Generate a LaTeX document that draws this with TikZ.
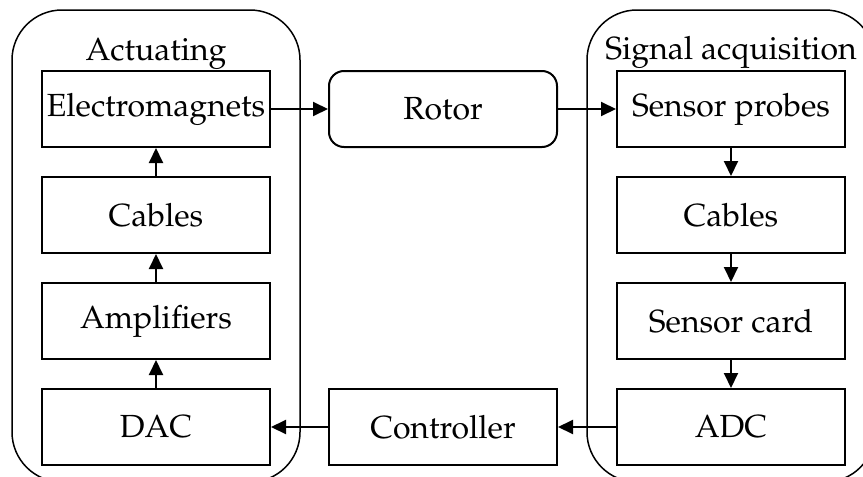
\documentclass[tikz,border=0pt]{standalone}
\usepackage[T1]{fontenc}
\usepackage{mathpazo}
\usepackage{tikz}
\usetikzlibrary{arrows.meta}

\begin{document}
\begin{tikzpicture}[x=0.5pt,y=-0.5pt,
	block/.style={draw,line width=1pt,minimum width=114pt,minimum height=38pt,inner sep=0pt,font=\fontsize{16}{19}\selectfont},
	rblock/.style={block,rounded corners=7.5pt},
	group/.style={draw,line width=0.75pt,rounded corners=25pt},
	title/.style={anchor=base,inner sep=0pt,font=\fontsize{16}{19}\selectfont},
	link/.style={line width=1pt,-{Triangle[length=7.5pt,width=7pt]}}]
	\clip (0,0) rectangle (863,477);
	%% groups
	\draw[group] (12,10) rectangle (300,482);
	\draw[group] (587,10) rectangle (875,482);
	\node[title] (acttitle) at (156,60) {Actuating};
	\node[title] (sigtitle) at (731,59) {Signal acquisition};
	%% actuating side
	\node[block] (magnets) at (156,109) {Electromagnets};
	\node[block] (actcables) at (156,215) {Cables};
	\node[block] (amps) at (156,321) {Amplifiers};
	\node[block] (dac) at (156,427) {DAC};
	%% middle
	\node[rblock] (rotor) at (443,109) {Rotor};
	\node[block] (ctrl) at (443,427) {Controller};
	%% signal side
	\node[block] (probes) at (731,109) {Sensor probes};
	\node[block] (sigcables) at (731,215) {Cables};
	\node[block] (card) at (731,321) {Sensor card};
	\node[block] (adc) at (731,427) {ADC};
	%% links
	\draw[link] (dac) -- (amps);
	\draw[link] (amps) -- (actcables);
	\draw[link] (actcables) -- (magnets);
	\draw[link] (magnets) -- (rotor);
	\draw[link] (rotor) -- (probes);
	\draw[link] (probes) -- (sigcables);
	\draw[link] (sigcables) -- (card);
	\draw[link] (card) -- (adc);
	\draw[link] (adc) -- (ctrl);
	\draw[link] (ctrl) -- (dac);
\end{tikzpicture}
\end{document}
